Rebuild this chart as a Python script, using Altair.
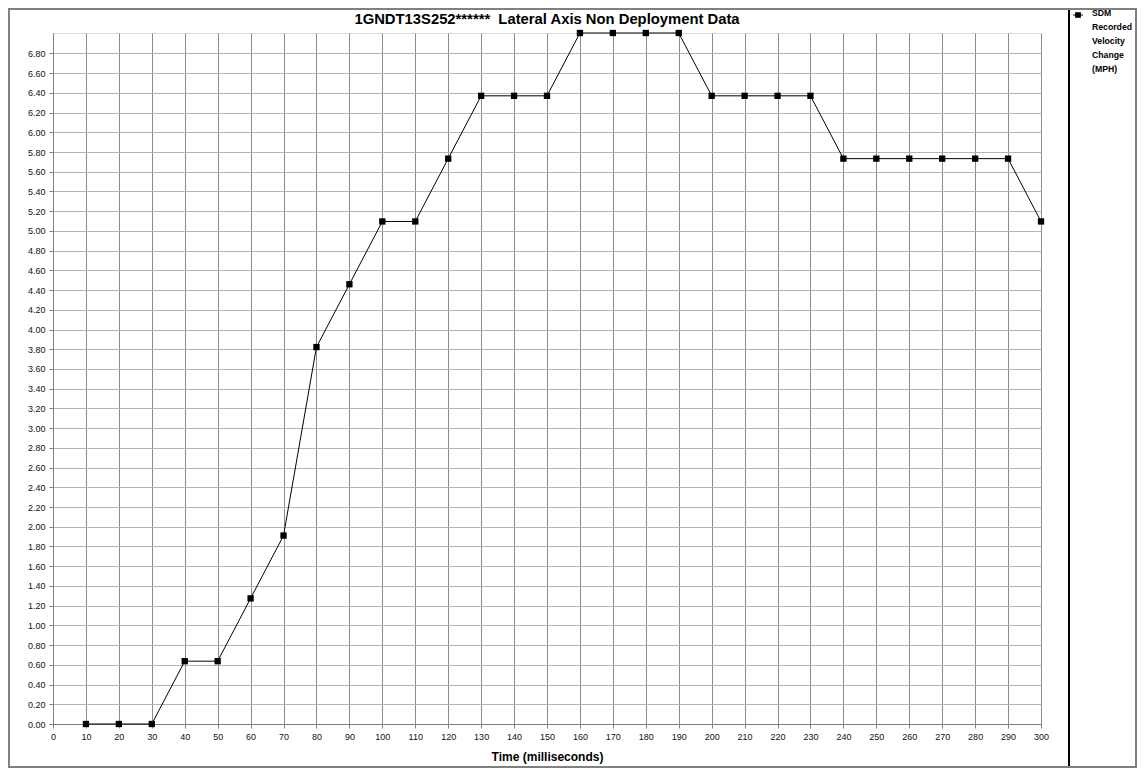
import altair as alt
import pandas as pd

time_ms = [10, 20, 30, 40, 50, 60, 70, 80, 90, 100, 110, 120, 130, 140, 150,
           160, 170, 180, 190, 200, 210, 220, 230, 240, 250, 260, 270, 280, 290, 300]
delta_v = [0.0, 0.0, 0.0, 0.637, 0.637, 1.274, 1.911, 3.822, 4.459, 5.096, 5.096,
           5.733, 6.37, 6.37, 6.37, 7.007, 7.007, 7.007, 7.007, 6.37, 6.37, 6.37,
           6.37, 5.733, 5.733, 5.733, 5.733, 5.733, 5.733, 5.096]
series_lines = ["SDM", "Recorded", "Velocity", "Change", "(MPH)"]
series_name = " ".join(series_lines)
x_ticks = list(range(0, 301, 10))
y_ticks = [round(i * 0.2, 2) for i in range(0, 35)]

df = pd.DataFrame({"t": time_ms, "v": delta_v, "series": series_name})

W, H = 988, 691
PL, PT = 45, 25
CW, CH = 1129, 760

x = alt.X("t:Q", scale=alt.Scale(domain=[0, 300], nice=False, zero=False),
          axis=alt.Axis(values=x_ticks, format="d", title="Time (milliseconds)",
                        titleFont="Liberation Sans", titleFontSize=12, titleFontWeight="bold",
                        titleColor="#000", titlePadding=10,
                        labelFont="Liberation Sans", labelFontSize=9, labelColor="#111",
                        labelPadding=4, tickSize=4, tickColor="#808080",
                        domainColor="#808080", gridColor="#8c8c8c", gridWidth=1,
                        labelFlush=False, labelOverlap=False))
y = alt.Y("v:Q", scale=alt.Scale(domain=[0, 7.007], nice=False),
          axis=alt.Axis(values=y_ticks, format=".2f", title=None,
                        labelFont="Liberation Sans", labelFontSize=9, labelColor="#111",
                        labelPadding=4, tickSize=4, tickColor="#808080",
                        domainColor="#808080", gridColor="#b4b4b4", gridWidth=1,
                        labelOverlap=False))

color = alt.Color("series:N", scale=alt.Scale(range=["#000000"]),
                  legend=alt.Legend(title=series_lines, titleOrient="right",
                                    titleAnchor="start", titleBaseline="top",
                                    titleFont="Liberation Sans", titleFontSize=8.7,
                                    titleFontWeight="bold", titleColor="#000",
                                    titleLineHeight=14, titlePadding=4,
                                    orient="none", legendX=1019, legendY=-24,
                                    symbolType="M-1,0L1,0M-0.45,-0.45L0.45,-0.45L0.45,0.45L-0.45,0.45Z",
                                    symbolSize=100, symbolStrokeWidth=1.2,
                                    symbolFillColor="#000", symbolStrokeColor="#000",
                                    labelExpr="''", labelLimit=1))

line = alt.Chart(df).mark_line(color="#000", strokeWidth=1).encode(x=x, y=y)
pts = alt.Chart(df).mark_point(shape="square", filled=True, size=40, opacity=1).encode(
    x=x, y=y, color=color)

sep = alt.Chart(df).mark_rule(color="#000", strokeWidth=1.5).encode(
    x=alt.value(1016), y=alt.value(-PT + 1), y2=alt.value(CH - PT - 1))
border = alt.Chart(df).mark_rect(fill=None, stroke="#808080", strokeWidth=1.2).encode(
    x=alt.value(-PL + 1), y=alt.value(-PT + 1),
    x2=alt.value(CW - PL - 1), y2=alt.value(CH - PT - 1))

chart = alt.layer(line, pts, sep, border).properties(
    width=W, height=H,
    autosize=alt.AutoSizeParams(type="none"),
    padding={"left": PL, "top": PT, "right": CW - PL - W, "bottom": CH - PT - H},
    title=alt.Title("1GNDT13S252******\u00a0\u00a0Lateral Axis Non Deployment Data",
                    font="Liberation Sans", fontSize=14.8, fontWeight="bold", color="#000",
                    anchor="middle", frame="group", offset=6, dy=25),
).configure_view(stroke="#a0a0a0", strokeWidth=1).configure(background="white")

chart.save("out.html", embed_options={"renderer": "svg", "actions": False})
